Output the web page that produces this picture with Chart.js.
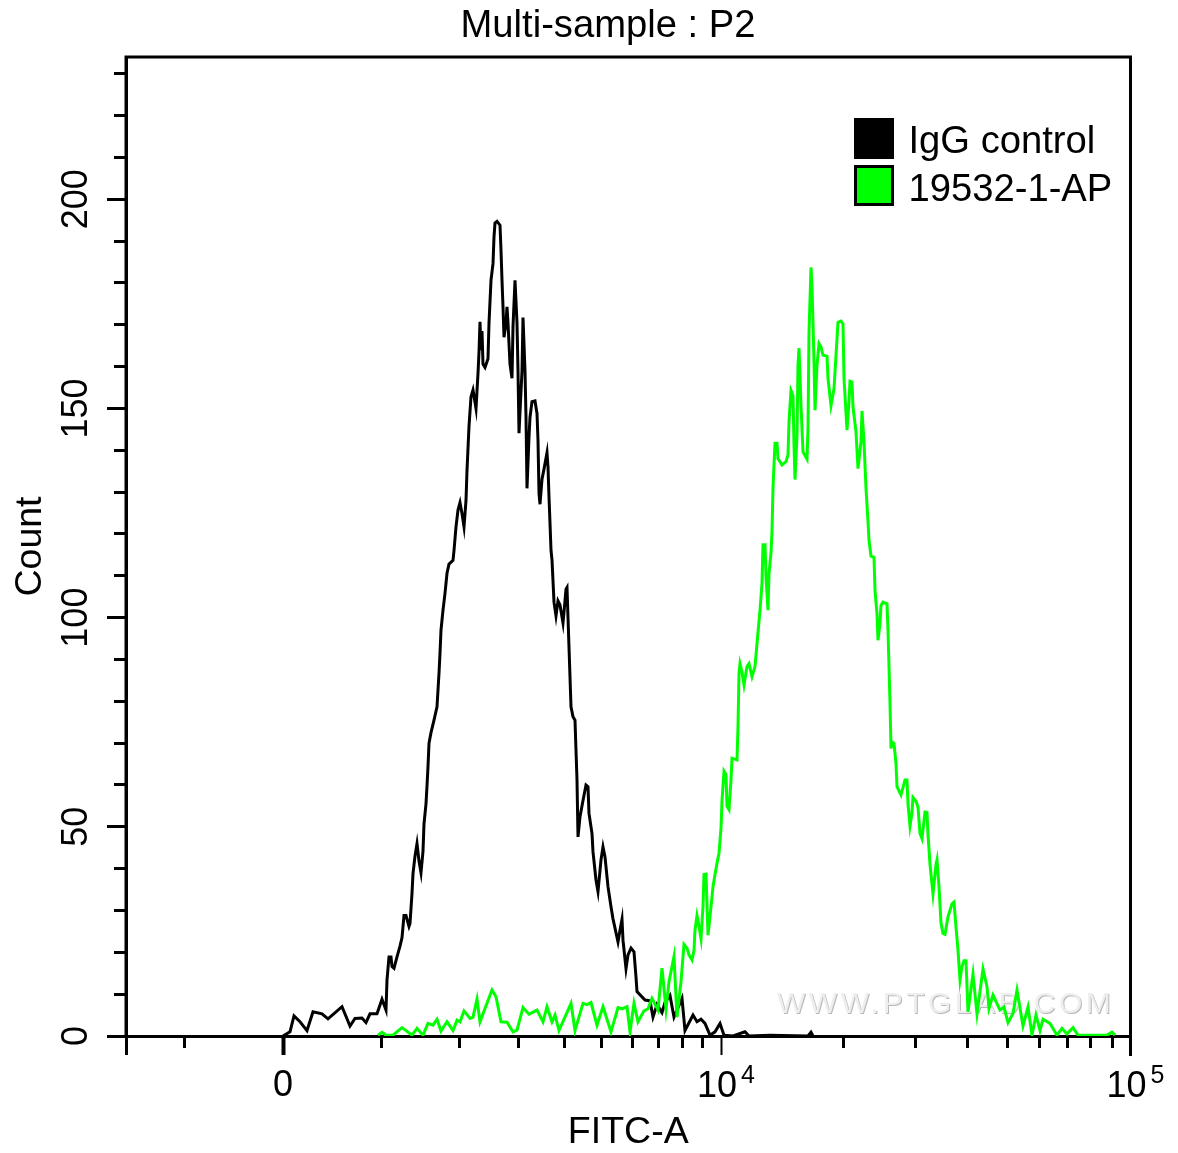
<!DOCTYPE html>
<html>
<head>
<meta charset="utf-8">
<style>html,body{margin:0;padding:0;background:#fff}canvas{display:block}</style>
<script src="https://cdn.jsdelivr.net/npm/chart.js@4/dist/chart.umd.min.js"></script>
</head>
<body>
<canvas id="c" width="1178" height="1153"></canvas>
<script>
// Axis position along the FITC-A display scale (biexponential channel units) and counts
const igChannels = [157,164,168,174,181,187,196,202,216,224,229,236,240,244,251,256,260,261,263,265,266,268,271,274,276,278,280,283,284,286,287,289,291,293,295,297,298,300,301,302,303,305,308,311,312,313,314,315,317,319,321,323,327,328,330,332,334,336,338,340,341,343,345,347,350,352,353,354,355,356,357,359,362,363,365,367,368,369,371,374,375,376,377,378,380,381,382,384,386,387,389,391,392,393,396,397,399,400,401,403,404,406,409,411,412,413,414,416,418,421,422,423,424,425,426,427,428,430,432,434,437,438,440,441,442,443,444,445,447,449,450,451,452,454,457,460,462,463,466,467,470,472,475,477,479,482,485,487,492,494,496,497,500,502,505,508,510,511,519,524,527,531,536,539,544,548,556,559,567,571,575,579,584,589,594,598,607,619,623,644,682,685,687];
const igCounts = [0,1,4.8,3.4,1.3,5.8,5.3,4.1,7,2.4,4.2,4.3,3.2,5.3,5.3,8.8,6.2,13.4,18.9,18.9,16.6,16.2,18.9,21.5,23.5,28.8,28.8,26.2,26.9,34.1,38.8,43,46,41.8,39,44.2,50.7,55.5,59.8,64.4,70,72.5,75.5,78.7,82.7,86.7,91.5,97,101.8,105.8,110.6,112.8,113.7,116,121.7,125.7,127.5,124.9,121.7,128,135.2,145.7,152.8,154.4,150,158.4,163.5,170.7,163.9,168.5,160.6,159.8,161.9,170.4,180.6,184.6,191,194.3,194.7,193.8,187.8,180.6,174.3,167,170.4,174.3,170.4,160.6,157.2,169.5,180.6,170.4,159,144.1,159,171.7,159,147.9,130.9,143.2,147.9,151.6,151.8,148.8,142.4,129.7,127.1,133.1,135.5,139.4,136,128.9,122.6,116.1,113.8,108.8,103.7,100.4,104,103,98.7,101.3,106.8,107.2,100,92.9,85.8,78.7,76.3,75.5,68.3,61.2,47.6,52.4,56.3,60,59.6,53.2,48.4,44,37.3,34.5,42.1,45.2,42.8,35.7,30.9,28,22.5,25.3,27.9,22.9,16.1,19.4,21,20.1,14.1,10.6,8.6,8.4,4.5,7.5,5.6,8,9.7,4.5,9,1.3,5,3.4,4,3,0.2,1,3,0.2,0,1,0,0.2,0,0.9,0];
const apChannels = [252,256,260,267,276,286,291,297,302,307,311,315,321,327,331,334,338,344,347,351,354,366,370,375,381,387,391,397,403,411,417,421,426,429,433,445,449,457,461,465,471,477,485,492,496,501,504,508,512,518,522,526,532,536,540,543,548,551,555,557,558,561,563,566,568,569,571,572,575,577,578,580,582,585,587,589,591,593,595,596,598,600,601,603,605,606,611,612,613,614,616,618,621,623,626,629,631,634,636,637,639,640,642,643,645,646,647,648,649,651,652,656,660,662,663,665,667,668,669,671,672,673,675,677,681,682,683,685,686,688,689,691,693,695,697,701,702,705,708,710,712,715,717,718,721,723,724,726,727,730,732,735,736,738,740,742,743,745,748,749,751,752,754,755,757,761,762,763,764,765,766,768,770,771,775,779,781,782,784,786,787,790,792,794,796,799,801,802,804,807,810,811,813,815,817,819,822,826,828,830,832,834,836,838,840,842,847,851,857,861,863,867,874,878,882,887,891,897,902,906,910,914,917,924,931,936,941,947,952,961,974,981,986,989];
const apCounts = [0.2,0.9,0.2,0.2,2,0.2,1.8,0.2,3,2.6,4,1.2,3.4,1.3,3.8,3.4,6,4.2,4.5,8.8,3.4,11,9.4,3.4,3.3,1,1.4,6.8,5.2,6.2,3.4,7,3.4,5,1.3,7.8,1.3,7.8,7.5,8,2.6,7,1,6.8,6.5,7,1,7.8,3.4,6,6.5,9,6.2,16.2,6.4,13,19,4.5,13,19,21.9,21,19.4,18.2,20.5,25.3,28.8,27.6,23.3,30.9,38.6,38.7,24.1,30.9,35.7,38.6,41.3,43.7,49.7,56.2,63.3,62.5,54.9,54.1,61.2,66.4,66,73.9,86.6,89,87,83.9,88.3,89,85.9,88.3,93.8,101.8,108.2,117.4,117.4,109.8,101.8,110.6,115.5,120.6,131,136.5,141.7,141.7,138,136.5,137.3,138.9,146.8,154.3,153.1,141.3,133,143.5,160.3,164.4,150.7,139.6,137.9,145.2,168.2,183.7,179.5,161.2,149.6,160.3,165.5,164.7,162.7,162.5,157.2,150.7,154.7,162.7,170.6,170.9,170.2,157.2,144.8,151.6,156.5,156.3,150.4,144.4,135.6,142,149.4,142,130.9,123,118.5,114.7,114.4,106.5,100.9,94.6,98.6,102.9,103.7,103.3,97,88.3,79.6,68.7,70.3,69.9,65.1,59.6,57.6,61.2,61.2,55.5,50.2,53.4,57,56.1,54.7,48.4,47.2,53.5,53.4,48.2,41,34,41,42.1,35.7,27,24.5,24.3,28.5,31.6,32,26,20.5,13.4,16.6,18,18,5.8,14.8,5.3,16,11.8,6.6,9.8,6.2,6.9,3.2,5.4,11,2.4,6.9,0.2,5,1.3,4,3,0.2,1.8,0.5,2,0.2,0.2,0.2,0.2,0.9,0.2];

const xMajorTicks = [0,157,595,1004.5];
const xMajorLabels = ['','0','',''];
const xMajorWidths = [3,4,2,3];
const xPowerTicks = [595,1004.5];
const xPowerBase = '10';
const xPowerExponents = ['4','5'];
const xMinorTicks = [58,255,333,392,438,475,506,532,556,576,717,789,841,881,913,941,964,986];
const yMajorTicks = [0,50,100,150,200];
const yMinorTicks = [10,20,30,40,60,70,80,90,110,120,130,140,160,170,180,190,210,220,230];
const chartTitle = 'Multi-sample : P2';
const xTitle = 'FITC-A';
const yTitle = 'Count';
const seriesNames = ['IgG control','19532-1-AP'];
const seriesColors = ['#000000','#00ff00'];
const watermark = 'WWW.PTGLAB.COM';

const FONT = '"Liberation Sans", Arial, sans-serif';
const toPoints = (xs, ys) => xs.map((x, i) => ({x, y: ys[i]}));
const setTicks = list => axis => { axis.ticks = list.map(value => ({value})); };

const decorations = {
  id: 'decorations',
  beforeDatasetsDraw(chart) {
    const c = chart.ctx;
    c.save();
    c.font = '30px ' + FONT;
    c.letterSpacing = '3.5px';
    c.textBaseline = 'alphabetic';
    c.textAlign = 'left';
    c.fillStyle = '#b8b8b8';
    c.fillText(watermark, 778, 1014);
    c.fillStyle = '#eeeeee';
    c.fillText(watermark, 777, 1013);
    c.restore();
  },
  afterDraw(chart) {
    const c = chart.ctx, a = chart.chartArea;
    c.save();
    c.strokeStyle = '#000';
    c.lineWidth = 3;
    c.beginPath();
    c.moveTo(a.left, a.bottom); c.lineTo(a.left, a.top); c.lineTo(a.right, a.top); c.lineTo(a.right, a.bottom + 20);
    c.stroke();
    c.fillStyle = '#000';
    c.font = '38.2px ' + FONT;
    c.textAlign = 'center';
    c.textBaseline = 'alphabetic';
    c.fillText(chartTitle, 608, 37);
    c.textAlign = 'left';
    c.fillRect(854, 118, 40, 41);
    c.fillText(seriesNames[0], 908.5, 153);
    c.fillStyle = seriesColors[1];
    c.fillRect(855.5, 166.5, 37, 38);
    c.strokeRect(855.5, 166.5, 37, 38);
    c.fillStyle = '#000';
    c.fillText(seriesNames[1], 908.5, 201);
    xPowerTicks.forEach((v, i) => {
      const px = chart.scales.x.getPixelForValue(v);
      c.font = '36px ' + FONT;
      c.fillText(xPowerBase, px - 24, 1097);
      c.font = '25px ' + FONT;
      c.fillText(xPowerExponents[i], px + 20, 1083);
    });
    c.restore();
  }
};

new Chart(document.getElementById('c'), {
  type: 'line',
  data: { datasets: [
    { label: seriesNames[0], data: toPoints(igChannels, igCounts), borderColor: seriesColors[0], backgroundColor: seriesColors[0], borderWidth: 3, pointRadius: 0, tension: 0, order: 2 },
    { label: seriesNames[1], data: toPoints(apChannels, apCounts), borderColor: seriesColors[1], backgroundColor: seriesColors[1], borderWidth: 3, pointRadius: 0, tension: 0, order: 1 }
  ]},
  plugins: [decorations],
  options: {
    responsive: false,
    animation: false,
    devicePixelRatio: 1,
    layout: { padding: { top: 57, right: 47.5, left: 0, bottom: 0 } },
    plugins: { legend: { display: false }, title: { display: false }, tooltip: { enabled: false } },
    scales: {
      x: {
        type: 'linear', position: 'bottom', min: 0, max: 1004.5, weight: 1,
        afterBuildTicks: setTicks(xMajorTicks),
        afterFit(s) { s.height = 117; },
        grid: { drawOnChartArea: false, tickLength: 19, tickColor: '#000', tickWidth: c => xMajorWidths[xMajorTicks.indexOf(c.tick.value)] },
        border: { display: true, color: '#000', width: 3 },
        ticks: { autoSkip: false, maxRotation: 0, minRotation: 0, padding: 9, color: '#000', font: { family: FONT, size: 36 },
          callback: v => xMajorLabels[xMajorTicks.indexOf(v)] },
        title: { display: true, text: xTitle, color: '#000', font: { family: FONT, size: 37.5, lineHeight: 1 }, padding: { top: 0, bottom: 2 } }
      },
      xMinor: {
        type: 'linear', axis: 'x', position: 'bottom', min: 0, max: 1004.5, weight: 0,
        afterBuildTicks: setTicks(xMinorTicks),
        afterFit(s) { s.height = 0; },
        grid: { drawOnChartArea: false, tickLength: 12, tickColor: '#000', tickWidth: 3 },
        border: { display: false },
        ticks: { display: false, autoSkip: false }
      },
      y: {
        type: 'linear', position: 'left', min: 0, max: 234, weight: 1,
        afterBuildTicks: setTicks(yMajorTicks),
        afterFit(s) { s.width = 126; },
        grid: { drawOnChartArea: false, tickLength: 19, tickColor: '#000', tickWidth: 3 },
        border: { display: true, color: '#000', width: 3 },
        ticks: { autoSkip: false, minRotation: 90, maxRotation: 90, crossAlign: 'center', padding: 0, color: '#000', font: { family: FONT, size: 36 } },
        title: { display: true, text: yTitle, color: '#000', font: { family: FONT, size: 37.5, lineHeight: 1 }, padding: { top: 12, bottom: 0 } }
      },
      yMinor: {
        type: 'linear', axis: 'y', position: 'left', min: 0, max: 234, weight: 0,
        afterBuildTicks: setTicks(yMinorTicks),
        afterFit(s) { s.width = 0; },
        grid: { drawOnChartArea: false, tickLength: 12, tickColor: '#000', tickWidth: 3 },
        border: { display: false },
        ticks: { display: false, autoSkip: false }
      }
    }
  }
});
</script>
</body>
</html>
